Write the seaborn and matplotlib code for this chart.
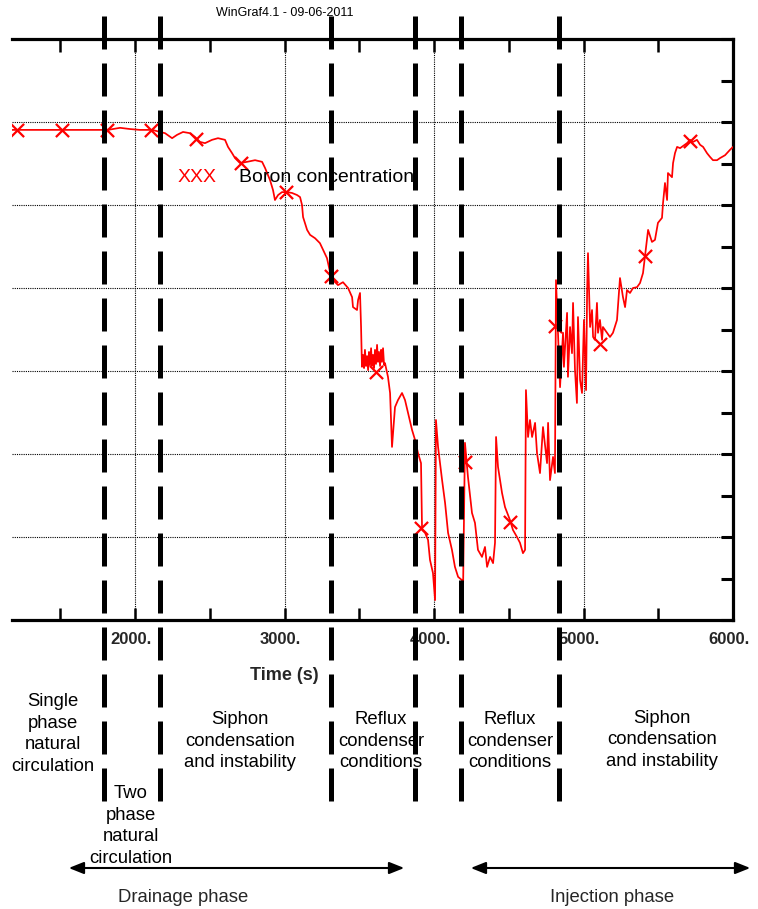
import numpy as np
import pandas as pd
import matplotlib
matplotlib.use("Agg")
import matplotlib.pyplot as plt
import matplotlib.transforms as mtransforms
from matplotlib.lines import Line2D
from matplotlib.patches import FancyArrowPatch
from matplotlib.ticker import MultipleLocator
import seaborn as sns

# Boron concentration transient (time in s, concentration in chart units)
time_s = [
    1177, 1819, 1900, 1967, 2033, 2114, 2167, 2201, 2248, 2281, 2321, 2368, 2401, 2435,
    2468, 2515, 2555, 2602, 2622, 2649, 2669, 2702, 2749, 2803, 2850, 2870, 2903, 2923,
    2936, 2957, 2983, 3017, 3050, 3084, 3104, 3117, 3124, 3151, 3171, 3204, 3237, 3258,
    3284, 3304, 3324, 3358, 3391, 3425, 3452, 3458, 3485, 3492, 3505, 3512, 3518, 3525,
    3532, 3538, 3545, 3552, 3559, 3565, 3572, 3579, 3585, 3592, 3599, 3605, 3612, 3619,
    3625, 3632, 3639, 3646, 3652, 3659, 3666, 3672, 3692, 3706, 3719, 3739, 3759, 3786,
    3806, 3826, 3853, 3873, 3893, 3913, 3920, 3940, 3960, 3973, 3993, 4007, 4013, 4027,
    4054, 4074, 4094, 4120, 4140, 4161, 4187, 4194, 4207, 4227, 4254, 4274, 4294, 4321,
    4341, 4355, 4375, 4395, 4408, 4415, 4428, 4455, 4475, 4508, 4528, 4555, 4575, 4595,
    4609, 4615, 4629, 4642, 4656, 4676, 4689, 4709, 4729, 4756, 4763, 4776, 4796, 4809,
    4816, 4829, 4843, 4863, 4869, 4890, 4896, 4910, 4923, 4930, 4943, 4956, 4963, 4977,
    4990, 5003, 5017, 5024, 5030, 5044, 5057, 5064, 5077, 5090, 5097, 5110, 5124, 5130,
    5157, 5177, 5197, 5224, 5244, 5264, 5278, 5291, 5311, 5331, 5358, 5378, 5398, 5411,
    5432, 5458, 5478, 5498, 5525, 5532, 5545, 5559, 5565, 5592, 5599, 5612, 5626, 5646,
    5692, 5713, 5733, 5759, 5780, 5800, 5826, 5846, 5866, 5893, 5913, 5947, 5980, 6000,
]
boron = [
    11.81, 11.81, 11.86, 11.83, 11.81, 11.81, 11.76, 11.73, 11.61, 11.69, 11.76, 11.73, 11.64, 11.52,
    11.49, 11.57, 11.61, 11.57, 11.40, 11.25, 11.13, 11.01, 11.04, 11.08, 11.04, 10.89, 10.60, 10.36,
    10.12, 10.24, 10.31, 10.31, 10.29, 10.24, 10.19, 10.00, 9.71, 9.40, 9.28, 9.20, 9.08, 8.92,
    8.72, 8.39, 8.19, 8.07, 8.14, 8.00, 7.78, 7.54, 7.47, 7.71, 7.88, 7.06, 6.10, 6.39,
    6.07, 6.51, 6.12, 6.36, 6.02, 6.46, 6.14, 6.55, 6.12, 6.39, 6.07, 6.51, 6.17, 6.63,
    6.22, 6.46, 6.12, 6.51, 6.22, 6.55, 6.14, 6.19, 5.86, 5.47, 4.17, 5.13, 5.30, 5.47,
    5.30, 4.99, 4.58, 4.34, 4.02, 3.78, 2.17, 2.10, 1.93, 1.45, 1.13, 0.48, 4.82, 4.17,
    3.37, 2.82, 2.10, 1.69, 1.28, 1.04, 0.96, 0.67, 4.27, 3.45, 2.58, 2.34, 1.69, 1.52,
    1.76, 1.28, 1.52, 1.37, 1.86, 4.41, 3.69, 3.06, 2.72, 2.41, 2.17, 2.00, 1.86, 1.61,
    1.69, 5.54, 4.41, 4.82, 4.41, 4.75, 4.02, 3.54, 4.65, 3.78, 4.75, 3.37, 3.93, 3.54,
    8.19, 6.92, 5.61, 6.92, 6.10, 7.40, 5.86, 7.06, 6.43, 7.64, 6.02, 5.23, 7.30, 5.78,
    5.47, 7.23, 5.54, 7.88, 8.84, 7.06, 7.47, 6.82, 6.75, 7.64, 6.92, 7.23, 6.75, 7.06,
    6.92, 6.82, 6.92, 7.23, 8.24, 7.78, 7.54, 7.95, 7.88, 8.00, 8.02, 8.12, 8.36, 8.75,
    9.40, 9.11, 9.16, 9.57, 9.69, 10.05, 10.53, 10.12, 10.77, 10.67, 11.01, 11.25, 11.40, 11.37,
    11.49, 11.57, 11.52, 11.57, 11.45, 11.40, 11.25, 11.16, 11.08, 11.08, 11.13, 11.20, 11.33, 11.40,
]

# Symbol points along the curve, one every 300 s
marker_time_s = [1210, 1510, 1810, 2110, 2410, 2710, 3010, 3310,
                 3610, 3910, 4210, 4510, 4810, 5110, 5410, 5710]
marker_boron = [11.81, 11.81, 11.81, 11.81, 11.59, 11.01, 10.31, 8.29,
                5.98, 2.22, 3.81, 2.36, 7.08, 6.65, 8.77, 11.54]

# Phase boundaries (s)
phase_bounds_s = [1790, 2167, 3308, 3873, 4181, 4833]

xtick_values = [2000, 3000, 4000, 5000, 6000]
xtick_labels = ["2000.", "3000.", "4000.", "5000.", "6000."]

phase_labels = [
    "Single\nphase\nnatural\ncirculation",
    "Two\nphase\nnatural\ncirculation",
    "Siphon\ncondensation\nand instability",
    "Reflux\ncondenser\nconditions",
    "Reflux\ncondenser\nconditions",
    "Siphon\ncondensation\nand instability",
]
period_labels = ["Drainage phase", "Injection phase"]

sns.set_theme(style="white")
plt.rcParams["font.family"] = ["Liberation Sans", "DejaVu Sans"]

W, H = 758, 909
fig = plt.figure(figsize=(W / 100, H / 100), dpi=100)


def fx(x):
    return x / W


def fy(y):
    return 1 - y / H


ax = fig.add_axes([fx(12), fy(620), (733 - 12) / W, (620 - 39) / H])

curve = pd.DataFrame({"Time (s)": time_s, "Boron": boron})
marks = pd.DataFrame({"Time (s)": marker_time_s, "Boron": marker_boron})

sns.lineplot(data=curve, x="Time (s)", y="Boron", ax=ax, color="#ff0000",
             linewidth=1.25, sort=False, estimator=None, zorder=3)
sns.scatterplot(data=marks, x="Time (s)", y="Boron", ax=ax, marker="x",
                s=90, color="#ff0000", linewidth=1.6, zorder=4)

ax.set_xlim(1177, 6000)
ax.set_ylim(0, 14)
ax.set_xlabel("")
ax.set_ylabel("")

# Axes frame: top, bottom and right only
for side in ("top", "bottom", "right"):
    ax.spines[side].set_visible(True)
    ax.spines[side].set_linewidth(2.3)
    ax.spines[side].set_color("black")
ax.spines["left"].set_visible(False)

ax.xaxis.set_minor_locator(MultipleLocator(500))
ax.set_xticks(xtick_values)
ax.set_xticklabels(xtick_labels, fontsize=12, fontweight="bold")
ax.yaxis.set_major_locator(MultipleLocator(2))
ax.yaxis.set_minor_locator(MultipleLocator(1))
ax.yaxis.set_ticks_position("right")
ax.tick_params(axis="x", which="both", direction="in", top=True, bottom=True,
               length=9, width=1.8, color="black", pad=9)
ax.tick_params(axis="y", which="both", direction="in", right=True, left=False,
               labelright=False, labelleft=False, length=9, width=2.2, color="black")

ax.grid(True, which="major", color="black", linestyle=(0, (1, 1)), linewidth=0.8)
ax.set_axisbelow(True)

shift = mtransforms.ScaledTranslation(-4 / 100, 0, fig.dpi_scale_trans)
for lab in ax.get_xticklabels():
    lab.set_transform(lab.get_transform() + shift)

# Phase boundary lines spanning the plot and the annotation area
blend = mtransforms.blended_transform_factory(ax.transData, fig.transFigure)
for t in phase_bounds_s:
    ln = Line2D([t, t], [fy(16), fy(806)], transform=blend, color="black",
                linewidth=3.6, linestyle=(0, (6.6, 2.8)), clip_on=False, zorder=6)
    ax.add_artist(ln)

# Header
fig.text(fx(285), fy(13), "WinGraf4.1 - 09-06-2011", fontsize=9,
         ha="center", va="center", color="black")

# Series key
fig.text(fx(178), fy(177), "XXX", fontsize=14, color="#ff0000", ha="left", va="center")
fig.text(fx(239), fy(177), "Boron concentration", fontsize=14, color="black",
         ha="left", va="center", zorder=7)

# Axis title
fig.text(fx(284), fy(675), "Time (s)", fontsize=13, fontweight="bold",
         ha="center", va="center")

# Phase descriptions
phase_pos = [(53, 734), (131, 826), (240, 741), (381, 741), (510, 741), (662, 740)]
for label, (px, py) in zip(phase_labels, phase_pos):
    fig.text(fx(px), fy(py), label, fontsize=13.3, ha="center", va="center",
             linespacing=1.38, color="black")

# Drainage / injection spans
for (x0, x1), label, tx in zip([(66, 407), (468, 753)], period_labels, [183, 612]):
    arr = FancyArrowPatch((fx(x0), fy(868)), (fx(x1), fy(868)),
                          transform=fig.transFigure,
                          arrowstyle="<|-|>,head_length=1.0,head_width=0.4",
                          mutation_scale=9, linewidth=1.5, color="black")
    fig.add_artist(arr)
    fig.text(fx(tx), fy(897), label, fontsize=13.3, ha="center", va="center")

fig.savefig("out.png", dpi=100)
